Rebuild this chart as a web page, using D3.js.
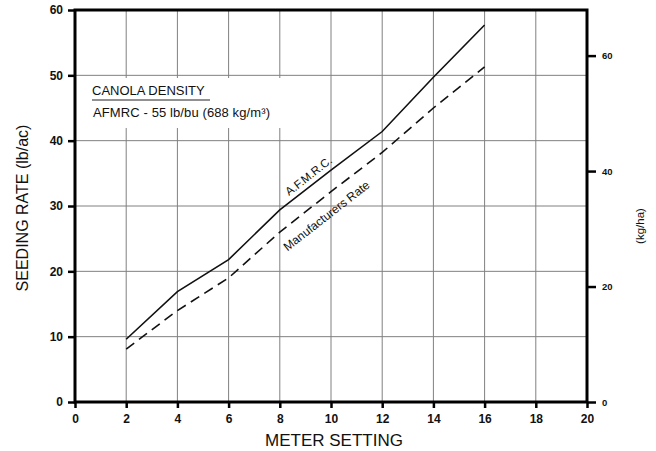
<!DOCTYPE html>
<html><head><meta charset="utf-8">
<script src="https://cdn.jsdelivr.net/npm/d3@7"></script>
<style>body{margin:0;background:#fff}svg{display:block}text{font-family:"Liberation Sans",Arial,Helvetica,sans-serif;fill:#111}</style>
</head><body>
<script>
const meterSettings = [2, 4, 6, 8, 10, 12, 14, 16];
const afmrcRate = [9.6, 16.9, 21.8, 29.4, 35.5, 41.4, 49.7, 57.7];
const manufacturerRate = [8.1, 14.0, 19.0, 26.0, 32.2, 38.2, 45.0, 51.3];
const xTicks = [0, 2, 4, 6, 8, 10, 12, 14, 16, 18, 20];
const yTicks = [0, 10, 20, 30, 40, 50, 60];
const kgTicks = [0, 20, 40, 60];
const legendTitle = "CANOLA DENSITY";
const legendText = "AFMRC - 55 lb/bu (688 kg/m³)";

const W = 656, H = 451;
const m = {left: 75, right: 587, top: 10, bottom: 402};
const svg = d3.select("body").append("svg").attr("width", W).attr("height", H);

const x = d3.scaleLinear().domain([0, 20]).range([m.left, m.right]);
const y = d3.scaleLinear().domain([0, 60]).range([m.bottom, m.top]);
const yKg = d3.scaleLinear().domain([0, 67.9]).range([m.bottom, m.top]);

// grid
svg.append("g").selectAll("line").data(xTicks.filter(d => d > 0 && d < 20)).join("line")
  .attr("x1", d => x(d)).attr("x2", d => x(d)).attr("y1", m.top).attr("y2", m.bottom)
  .attr("stroke", "#808080").attr("stroke-width", 1);
svg.append("g").selectAll("line").data(yTicks.filter(d => d > 0 && d < 60)).join("line")
  .attr("y1", d => y(d)).attr("y2", d => y(d)).attr("x1", m.left).attr("x2", m.right)
  .attr("stroke", "#808080").attr("stroke-width", 1);

// legend box
svg.append("rect").attr("x", 80).attr("y", 78).attr("width", 222).attr("height", 50).attr("fill", "#fff");
svg.append("text").attr("x", 92).attr("y", 95).attr("font-size", 13).text(legendTitle);
svg.append("line").attr("x1", 92).attr("x2", 210).attr("y1", 100).attr("y2", 100).attr("stroke", "#222").attr("stroke-width", 1);
svg.append("text").attr("x", 93).attr("y", 117).attr("font-size", 13).attr("textLength", 177).text(legendText);

// lines
const line = d3.line().x(d => x(d[0])).y(d => y(d[1]));
svg.append("path").datum(meterSettings.map((s, i) => [s, afmrcRate[i]]))
  .attr("d", line).attr("fill", "none").attr("stroke", "#111").attr("stroke-width", 1.6);
svg.append("path").datum(meterSettings.map((s, i) => [s, manufacturerRate[i]]))
  .attr("d", line).attr("fill", "none").attr("stroke", "#111").attr("stroke-width", 1.6)
  .attr("stroke-dasharray", "10,6");

// line labels
svg.append("text").attr("transform", "translate(311,179) rotate(-38)")
  .attr("text-anchor", "middle").attr("font-size", 11.5).text("A.F.M.R.C.");
svg.append("text").attr("transform", "translate(329,219) rotate(-38)")
  .attr("text-anchor", "middle").attr("font-size", 12).text("Manufacturers Rate");

// frame
svg.append("rect").attr("x", m.left).attr("y", m.top).attr("width", m.right - m.left).attr("height", m.bottom - m.top)
  .attr("fill", "none").attr("stroke", "#000").attr("stroke-width", 3);

// axes
const axL = svg.append("g").attr("transform", `translate(${m.left},0)`)
  .call(d3.axisLeft(y).tickValues(yTicks).tickSize(7).tickPadding(5));
const axB = svg.append("g").attr("transform", `translate(0,${m.bottom})`)
  .call(d3.axisBottom(x).tickValues(xTicks).tickSize(6).tickPadding(6));
const axR = svg.append("g").attr("transform", `translate(${m.right},0)`)
  .call(d3.axisRight(yKg).tickValues(kgTicks).tickSize(9).tickPadding(6));
[axL, axB, axR].forEach(g => {
  g.select(".domain").remove();
  g.selectAll(".tick line").attr("stroke", "#000").attr("stroke-width", 2.5);
  g.selectAll(".tick text").attr("fill", "#111").attr("font-family", "Liberation Sans, Arial, sans-serif");
});
axL.selectAll(".tick text").attr("font-size", 12).attr("font-weight", "bold");
axB.selectAll(".tick text").attr("font-size", 12).attr("font-weight", "bold");
axR.selectAll(".tick text").attr("font-size", 9.5).attr("font-weight", "bold");

// axis titles
svg.append("text").attr("transform", "translate(28,208) rotate(-90)")
  .attr("text-anchor", "middle").attr("font-size", 16).text("SEEDING RATE (lb/ac)");
svg.append("text").attr("x", 334).attr("y", 446).attr("text-anchor", "middle")
  .attr("font-size", 17).text("METER SETTING");
svg.append("text").attr("transform", "translate(644,226) rotate(-90)")
  .attr("text-anchor", "middle").attr("font-size", 11.5).text("(kg/ha)");
</script>
</body></html>
